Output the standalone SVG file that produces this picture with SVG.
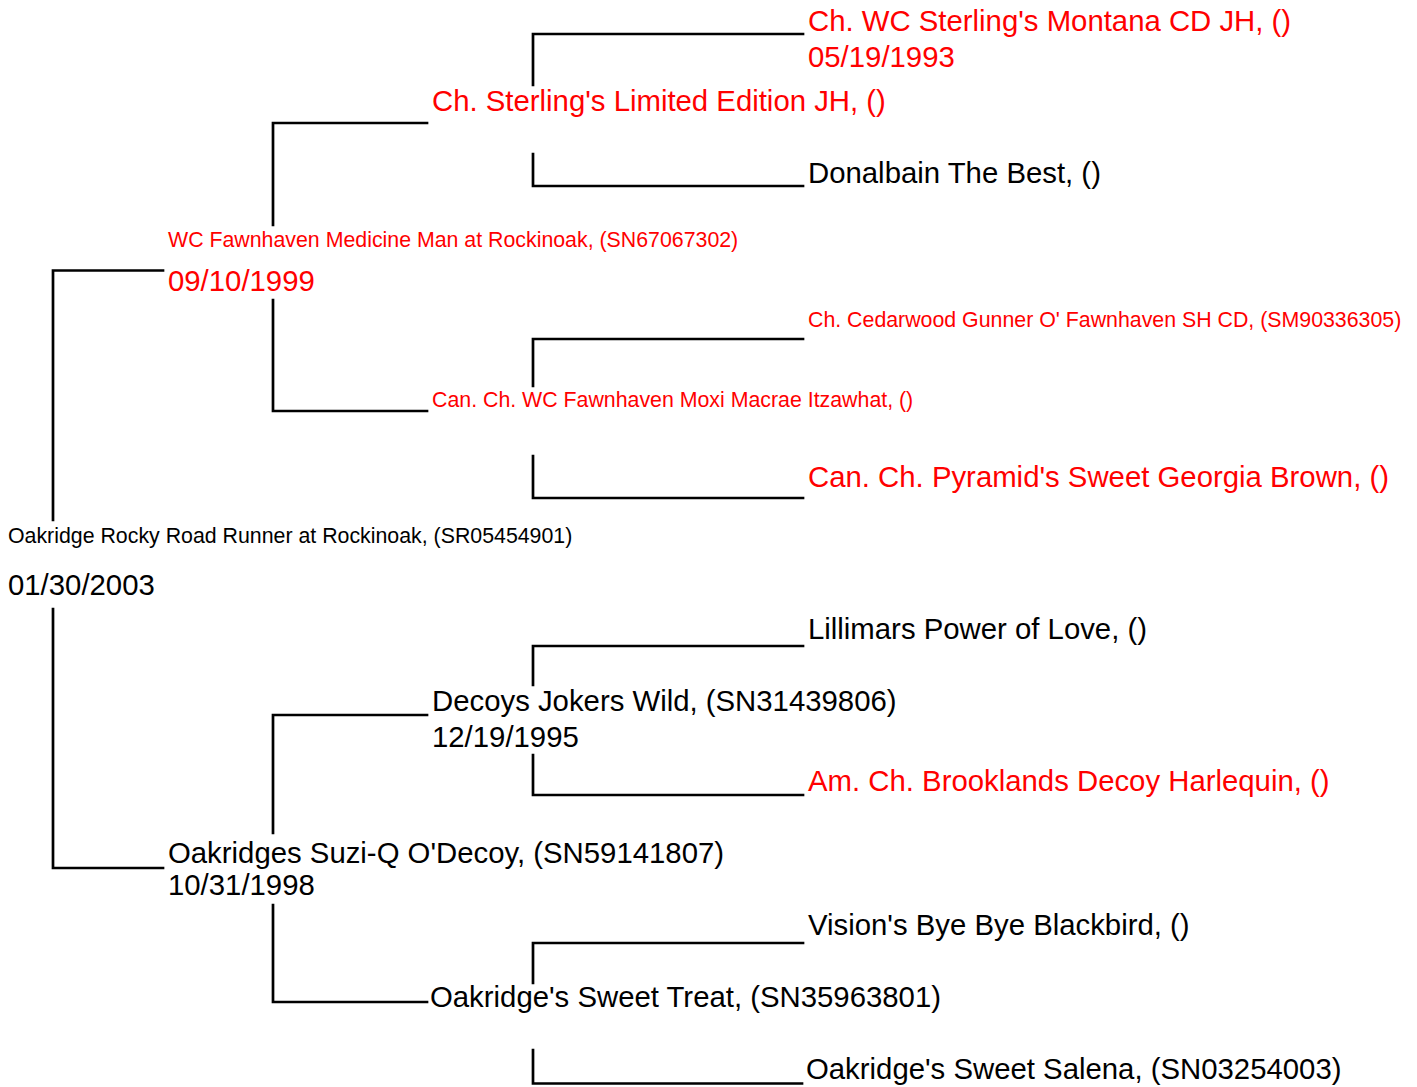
<svg xmlns="http://www.w3.org/2000/svg" width="1417" height="1087" viewBox="0 0 1417 1087">
<style>
  text { font-family: "Liberation Sans", Arial, sans-serif; fill: #000; }
  .L { font-size: 29.33px; }
  .S { font-size: 21.33px; }
  .red { fill: #ff0000; }
  .ln { stroke: #000; stroke-width: 2.7; fill: none; stroke-linecap: square; }
</style>
<rect width="1417" height="1087" fill="#fff"/>
<g id="connectors">
  <path class="ln" d="M53,520 V270.5 H163"/>
  <path class="ln" d="M53,609 V868 H163"/>
  <path class="ln" d="M273,225 V123 H427"/>
  <path class="ln" d="M273,300 V411 H427"/>
  <path class="ln" d="M273,833 V715 H427"/>
  <path class="ln" d="M273,905 V1002 H427"/>
  <path class="ln" d="M533,85 V34 H803"/>
  <path class="ln" d="M533,154 V186 H803"/>
  <path class="ln" d="M533,386 V339 H803"/>
  <path class="ln" d="M533,456 V498 H803"/>
  <path class="ln" d="M533,685 V646 H803"/>
  <path class="ln" d="M533,755 V795 H803"/>
  <path class="ln" d="M533,983 V943 H803"/>
  <path class="ln" d="M533,1050 V1083.5 H802"/>
</g>
<g id="root">
  <text class="S" x="8" y="543">Oakridge Rocky Road Runner at Rockinoak, (SR05454901)</text>
  <text class="L" x="8" y="595">01/30/2003</text>
</g>
<g id="sire">
  <text class="S red" x="168" y="247">WC Fawnhaven Medicine Man at Rockinoak, (SN67067302)</text>
  <text class="L red" x="168" y="291">09/10/1999</text>
</g>
<g id="dam">
  <text class="L" x="168" y="863">Oakridges Suzi-Q O'Decoy, (SN59141807)</text>
  <text class="L" x="168" y="895">10/31/1998</text>
</g>
<g id="ss">
  <text class="L red" x="432" y="111">Ch. Sterling's Limited Edition JH, ()</text>
</g>
<g id="sd">
  <text class="S red" x="432" y="407">Can. Ch. WC Fawnhaven Moxi Macrae Itzawhat, ()</text>
</g>
<g id="ds">
  <text class="L" x="432" y="711">Decoys Jokers Wild, (SN31439806)</text>
  <text class="L" x="432" y="747">12/19/1995</text>
</g>
<g id="dd">
  <text class="L" x="430" y="1007">Oakridge's Sweet Treat, (SN35963801)</text>
</g>
<g id="sss">
  <text class="L red" x="808" y="31">Ch. WC Sterling's Montana CD JH, ()</text>
  <text class="L red" x="808" y="67">05/19/1993</text>
</g>
<g id="ssd">
  <text class="L" x="808" y="183">Donalbain The Best, ()</text>
</g>
<g id="sds">
  <text class="S red" x="808" y="327">Ch. Cedarwood Gunner O' Fawnhaven SH CD, (SM90336305)</text>
</g>
<g id="sdd">
  <text class="L red" x="808" y="487">Can. Ch. Pyramid's Sweet Georgia Brown, ()</text>
</g>
<g id="dss">
  <text class="L" x="808" y="639">Lillimars Power of Love, ()</text>
</g>
<g id="dsd">
  <text class="L red" x="808" y="791">Am. Ch. Brooklands Decoy Harlequin, ()</text>
</g>
<g id="dds">
  <text class="L" x="808" y="935">Vision's Bye Bye Blackbird, ()</text>
</g>
<g id="ddd">
  <text class="L" x="806" y="1079">Oakridge's Sweet Salena, (SN03254003)</text>
</g>
</svg>
